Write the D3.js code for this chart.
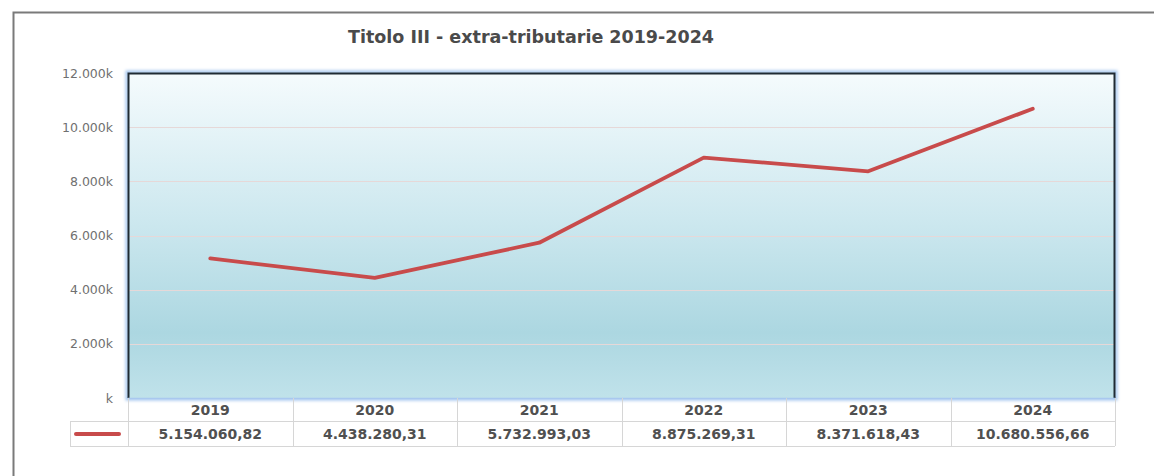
<!DOCTYPE html>
<html>
<head>
<meta charset="utf-8">
<script src="https://cdn.jsdelivr.net/npm/d3@7"></script>
<style>
  html, body { margin: 0; padding: 0; background: #ffffff; }
  svg { display: block; }
</style>
</head>
<body>
<svg id="chart" width="1154" height="476"></svg>
<script>
// Entrate extra-tributarie (Titolo III), importi in euro
const years = ["2019", "2020", "2021", "2022", "2023", "2024"];
const amounts = [5154060.82, 4438280.31, 5732993.03, 8875269.31, 8371618.43, 10680556.66];
const amountLabels = ["5.154.060,82", "4.438.280,31", "5.732.993,03", "8.875.269,31", "8.371.618,43", "10.680.556,66"];
const yTicks = [0, 2000000, 4000000, 6000000, 8000000, 10000000, 12000000];
const chartTitle = "Titolo III - extra-tributarie 2019-2024";

const svg = d3.select("#chart");
const W = 1154, H = 476;
const plot = { left: 128, right: 1115, top: 73, bottom: 398 };
const tableRows = { headerTop: 398, headerBottom: 421, valueBottom: 446, legendLeft: 70 };
const font = "'DejaVu Sans', 'Liberation Sans', sans-serif";

// outer frame (top and left edges visible)
svg.append("path")
  .attr("d", `M${W},12.5 H13.5 V${H}`)
  .attr("fill", "none").attr("stroke", "#7a7a7a").attr("stroke-width", 2);

// title
svg.append("text")
  .attr("x", 531).attr("y", 43)
  .attr("text-anchor", "middle")
  .attr("font-family", font).attr("font-weight", "bold")
  .attr("font-size", 17.5).attr("fill", "#4a4a4a")
  .text(chartTitle);

const x = d3.scaleBand().domain(years).range([plot.left, plot.right]);
const y = d3.scaleLinear().domain([0, 12000000]).range([plot.bottom, plot.top]);

// plot-area background gradient
const defs = svg.append("defs");
const grad = defs.append("linearGradient").attr("id", "bg")
  .attr("x1", 0).attr("y1", 0).attr("x2", 0).attr("y2", 1);
grad.append("stop").attr("offset", "0%").attr("stop-color", "#f5fbfd");
grad.append("stop").attr("offset", "45%").attr("stop-color", "#cde8ef");
grad.append("stop").attr("offset", "80%").attr("stop-color", "#acd7e1");
grad.append("stop").attr("offset", "100%").attr("stop-color", "#c0e2ea");

const glow = defs.append("filter").attr("id", "glow")
  .attr("x", "-5%").attr("y", "-5%").attr("width", "110%").attr("height", "110%");
glow.append("feGaussianBlur").attr("stdDeviation", 1.5);

// soft blue halo around plot area
svg.append("rect")
  .attr("x", plot.left - 1).attr("y", plot.top - 1)
  .attr("width", plot.right - plot.left + 2).attr("height", plot.bottom - plot.top + 2)
  .attr("fill", "none").attr("stroke", "#9fc3ee").attr("stroke-width", 3)
  .attr("filter", "url(#glow)");

svg.append("rect")
  .attr("x", plot.left).attr("y", plot.top)
  .attr("width", plot.right - plot.left).attr("height", plot.bottom - plot.top)
  .attr("fill", "url(#bg)");

// horizontal gridlines
svg.append("g").selectAll("line")
  .data(yTicks.filter(d => d > 0 && d < 12000000))
  .join("line")
  .attr("x1", plot.left).attr("x2", plot.right)
  .attr("y1", d => Math.round(y(d)) + 0.5).attr("y2", d => Math.round(y(d)) + 0.5)
  .attr("stroke", "#e6d8d8").attr("stroke-width", 1);

// plot borders: dark top, left and right, light blue bottom
svg.append("path")
  .attr("d", `M${plot.left + 0.5},${plot.bottom} V${plot.top + 0.5} H${plot.right - 0.5} V${plot.bottom}`)
  .attr("fill", "none").attr("stroke", "#1f2a33").attr("stroke-width", 2);
svg.append("line")
  .attr("x1", plot.left).attr("x2", plot.right)
  .attr("y1", plot.bottom + 0.5).attr("y2", plot.bottom + 0.5)
  .attr("stroke", "#a9c8ef").attr("stroke-width", 1.5);

// y axis labels
const yAxis = d3.axisLeft(y).tickValues(yTicks).tickSize(0).tickPadding(15)
  .tickFormat(d => d === 0 ? "k" : d3.format(",")(d / 1000).replace(/,/g, ".") + "k");
const ya = svg.append("g").attr("transform", `translate(${plot.left},0)`).call(yAxis);
ya.select(".domain").remove();
ya.selectAll("text")
  .attr("font-family", font).attr("font-size", 12.5).attr("fill", "#707070");

// series line
const line = d3.line()
  .x((d, i) => x(years[i]) + x.bandwidth() / 2)
  .y(d => y(d));
svg.append("path")
  .datum(amounts)
  .attr("d", line)
  .attr("fill", "none").attr("stroke", "#c84b4b")
  .attr("stroke-width", 3.8).attr("stroke-linejoin", "round").attr("stroke-linecap", "round");

// data table under the chart
const grid = svg.append("g").attr("stroke", "#d6d6d6").attr("stroke-width", 1).attr("fill", "none");
// column separators
const colEdges = years.map(d => x(d)).concat([plot.right]);
grid.selectAll("line.col").data(colEdges).join("line").attr("class", "col")
  .attr("x1", d => Math.round(d) + 0.5).attr("x2", d => Math.round(d) + 0.5)
  .attr("y1", tableRows.headerTop).attr("y2", tableRows.valueBottom);
// row lines
grid.append("line")
  .attr("x1", tableRows.legendLeft).attr("x2", plot.right)
  .attr("y1", tableRows.headerBottom + 0.5).attr("y2", tableRows.headerBottom + 0.5);
grid.append("line")
  .attr("x1", tableRows.legendLeft).attr("x2", plot.right)
  .attr("y1", tableRows.valueBottom + 0.5).attr("y2", tableRows.valueBottom + 0.5);
grid.append("line")
  .attr("x1", tableRows.legendLeft + 0.5).attr("x2", tableRows.legendLeft + 0.5)
  .attr("y1", tableRows.headerBottom).attr("y2", tableRows.valueBottom);

// year headers
svg.append("g").selectAll("text").data(years).join("text")
  .attr("x", d => x(d) + x.bandwidth() / 2)
  .attr("y", (tableRows.headerTop + tableRows.headerBottom) / 2 + 5.5)
  .attr("text-anchor", "middle")
  .attr("font-family", font).attr("font-weight", "bold").attr("font-size", 14)
  .attr("fill", "#505050")
  .text(d => d);

// value cells
svg.append("g").selectAll("text").data(amountLabels).join("text")
  .attr("x", (d, i) => x(years[i]) + x.bandwidth() / 2)
  .attr("y", (tableRows.headerBottom + tableRows.valueBottom) / 2 + 5.5)
  .attr("text-anchor", "middle")
  .attr("font-family", font).attr("font-weight", "bold").attr("font-size", 14)
  .attr("fill", "#505050")
  .text(d => d);

// legend key
const keyY = (tableRows.headerBottom + tableRows.valueBottom) / 2 + 0.5;
svg.append("line")
  .attr("x1", 76).attr("x2", 119)
  .attr("y1", keyY).attr("y2", keyY)
  .attr("stroke", "#c84b4b").attr("stroke-width", 4).attr("stroke-linecap", "round");
</script>
</body>
</html>
